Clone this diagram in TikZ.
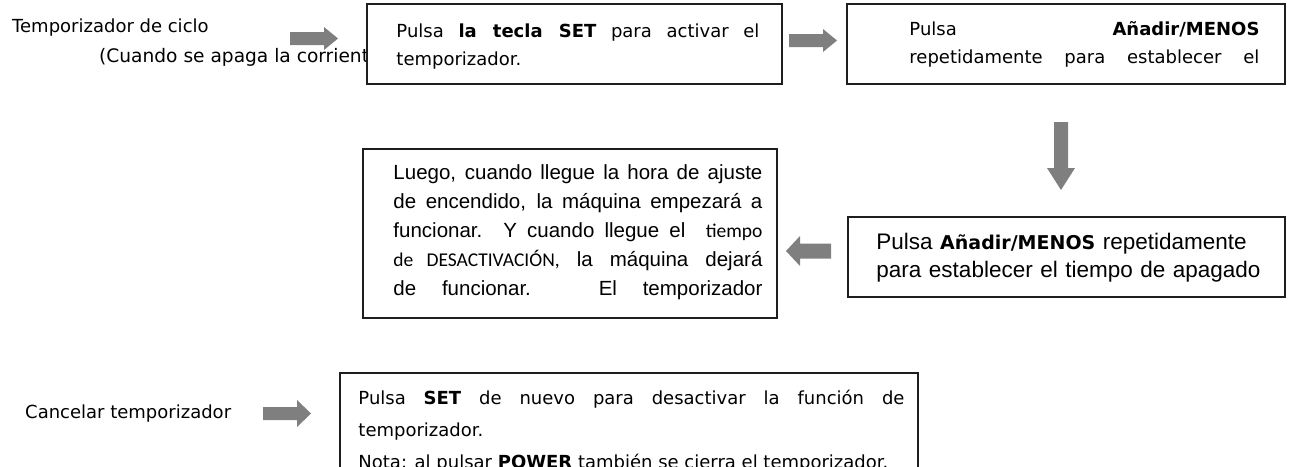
\documentclass[tikz,border=0pt]{standalone}
\usepackage{fontspec}
\setmainfont{DejaVu Sans}
\newfontfamily\arialfont{Liberation Sans}
\newfontfamily\calibrifont{Carlito}
\usetikzlibrary{calc}
\definecolor{arrowgray}{RGB}{127,127,127}
\definecolor{boxline}{RGB}{30,30,30}
\hyphenpenalty=10000
\exhyphenpenalty=10000

\tikzset{
  pics/blockarrow/.style n args={4}{code={
    % #1 length, #2 shaft width, #3 head width, #4 head length
    \fill[arrowgray] (0,{-#2/2}) -- ({#1-#4},{-#2/2}) -- ({#1-#4},{-#3/2})
      -- (#1,0) -- ({#1-#4},{#3/2}) -- ({#1-#4},{#2/2}) -- (0,{#2/2}) -- cycle;
  }}
}

\begin{document}
\begin{tikzpicture}[
  x=1pt, y=-1pt,
  stepbox/.style={draw=boxline, line width=1.5pt, fill=white, inner sep=0pt},
  steptext/.style={anchor=base west, inner sep=0pt, align=justify,
    font=\fontsize{18}{28}\selectfont},
  runpara/.style={steptext, font=\arialfont\fontsize{20.5}{29}\selectfont},
  sidelabel/.style={anchor=base west, inner sep=0pt, font=\fontsize{18}{22}\selectfont}
]
\useasboundingbox (0,0) rectangle (1290,466);

% Mode labels on the left.
\node[sidelabel] (cyclelbl)  at (12,32)  {Temporizador de ciclo};
\node[sidelabel, font=\fontsize{18.6}{22}\selectfont]
                 (cyclenote) at (99,62)  {(Cuando se apaga la corrient};
\node[sidelabel] (cancellbl) at (25,418) {Cancelar temporizador};

% Step boxes.
\node[stepbox, minimum width=415pt, minimum height=80pt]  (setbox)    at (574.5,44)  {};
\node[stepbox, minimum width=438pt, minimum height=80pt]  (valbox)    at (1066,44)   {};
\node[stepbox, minimum width=437pt, minimum height=80pt]  (offbox)    at (1066.5,257) {};
\node[stepbox, minimum width=414pt, minimum height=169pt] (runbox)    at (570,233.5) {};
\node[stepbox, minimum width=578pt, minimum height=117pt] (cancelbox) at (629,431.5) {};

% Texts of the steps (a trailing \linebreak keeps the last line justified).
\node[steptext, text width=363pt] (settext)
  at ([xshift=30pt,yshift=-34pt]setbox.north west)
  {Pulsa \textbf{la tecla SET} para activar el\linebreak temporizador.};
\node[steptext, text width=350pt] (valtext)
  at ([xshift=63pt,yshift=-32pt]valbox.north west)
  {Pulsa \textbf{Añadir/MENOS}\linebreak
   repetidamente para establecer el\linebreak};
\node[steptext, align=left, text width=405pt,
      font=\arialfont\fontsize{22.5}{28}\selectfont] (offtext)
  at ([xshift=29pt,yshift=-33pt]offbox.north west)
  {Pulsa {\rmfamily\bfseries\fontsize{19}{28}\selectfont Añadir/MENOS} repetidamente\\
   para establecer el tiempo de apagado};
\node[runpara, text width=369pt] (runtext)
  at ([xshift=31pt,yshift=-31pt]runbox.north west)
  {Luego, cuando llegue la hora de ajuste\linebreak
   de encendido, la máquina empezará a\linebreak
   funcionar. Y cuando llegue el\ \ {\calibrifont\fontsize{19.5}{29}\selectfont tiempo}\linebreak
   {\calibrifont\fontsize{19.5}{29}\selectfont de DESACTIVACIÓN,} la máquina dejará\linebreak
   de funcionar. El temporizador\linebreak};
\node[steptext, text width=546pt, font=\fontsize{18}{32}\selectfont] (canceltext)
  at ([xshift=19pt,yshift=-32pt]cancelbox.north west)
  {Pulsa \textbf{SET} de nuevo para desactivar la función de\linebreak
   temporizador.\par
   \mbox{Nota: al pulsar \textbf{POWER} también se cierra el temporizador.}};

% Block arrows between the steps.
\pic at (290,38.5) {blockarrow={48}{13}{23}{14}};
\pic at (789,40.5) {blockarrow={48}{13}{23}{14}};
\pic[rotate=-90] at (1061,122) {blockarrow={68}{14}{28}{22}};
\pic[rotate=180] at (831,251) {blockarrow={45}{15}{30}{14}};
\pic at (263,413.5) {blockarrow={48}{13}{27}{14}};

\end{tikzpicture}
\end{document}
